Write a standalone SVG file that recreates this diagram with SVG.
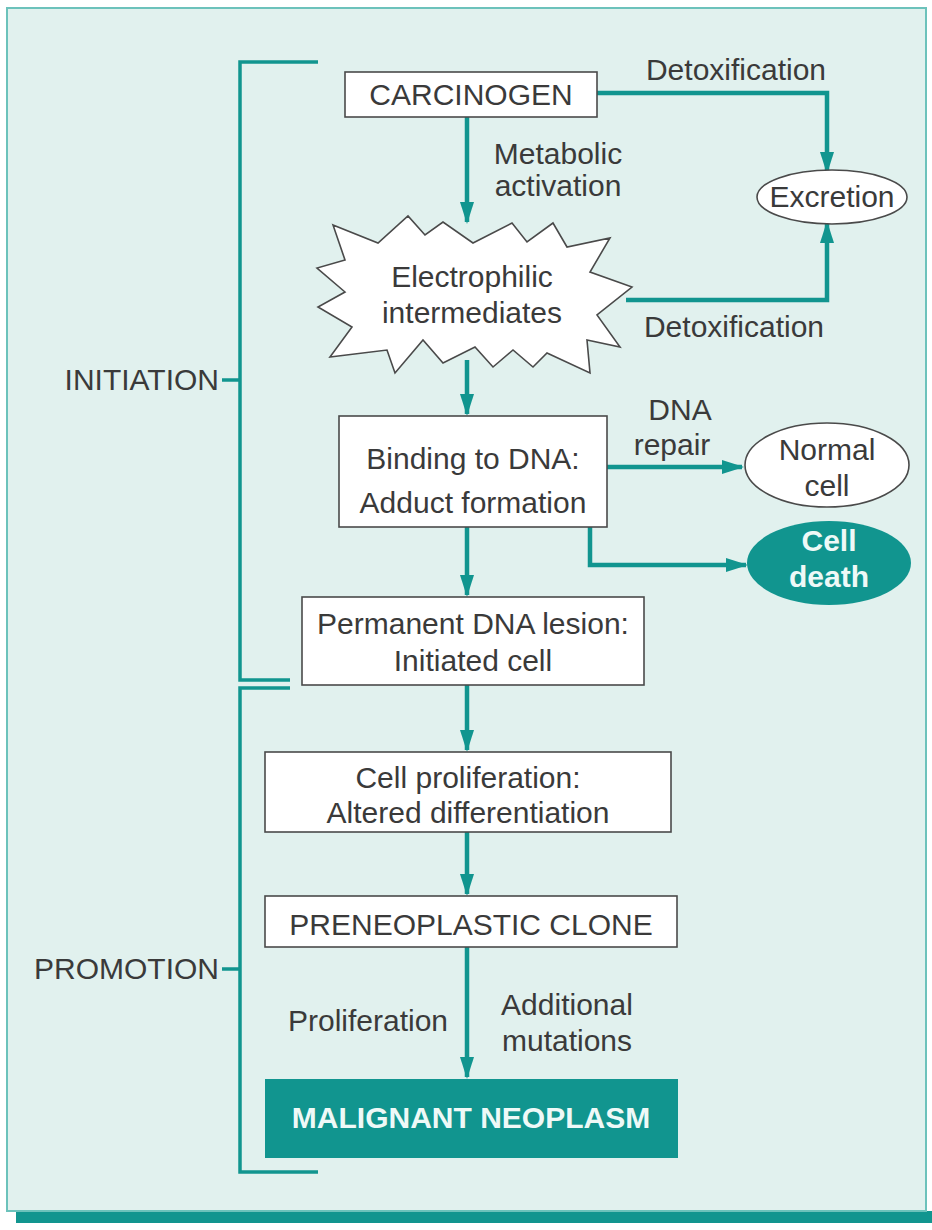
<svg xmlns="http://www.w3.org/2000/svg" width="932" height="1230" viewBox="0 0 932 1230">
<style>
.t{font-family:"Liberation Sans",Arial,sans-serif;font-size:30px;fill:#3a3a3a;text-anchor:middle}
.tb{font-family:"Liberation Sans",Arial,sans-serif;font-size:30px;font-weight:bold;fill:#eef9f7;text-anchor:middle}
.box{fill:#ffffff;stroke:#4a4a4a;stroke-width:1.6}
.teal{fill:#11958f;stroke:none}
.c{fill:none;stroke:#11958f;stroke-width:4.5}
.br{fill:none;stroke:#11958f;stroke-width:3.5}
</style>
<defs>
<marker id="ah" markerWidth="22" markerHeight="14" refX="20" refY="7" orient="auto" markerUnits="userSpaceOnUse">
<path d="M0,0 L22,7 L0,14 Z" fill="#11958f"/>
</marker>
</defs>
<rect x="0" y="0" width="932" height="1230" fill="#ffffff"/>
<rect x="16" y="1211" width="916" height="12" fill="#11958f"/>
<rect x="7" y="8" width="919" height="1203" fill="#e1f1ee" stroke="#6cc2bb" stroke-width="2"/>

<g id="brackets">
<path class="br" d="M318,62 H240 V680 H290"/>
<path class="br" d="M222,380 H240"/>
<path class="br" d="M290,688 H240 V1172 H318"/>
<path class="br" d="M222,969 H240"/>
</g>
<g id="initiation-label"><text class="t" x="219" y="390" style="text-anchor:end">INITIATION</text></g>
<g id="promotion-label"><text class="t" x="219" y="979" style="text-anchor:end">PROMOTION</text></g>

<g id="connectors">
<path class="c" d="M467,117 V222" marker-end="url(#ah)"/>
<path class="c" d="M597,93 H827 V172" marker-end="url(#ah)"/>
<path class="c" d="M626,300 H827 V223" marker-end="url(#ah)"/>
<path class="c" d="M467,360 V414" marker-end="url(#ah)"/>
<path class="c" d="M607,467 H742" marker-end="url(#ah)"/>
<path class="c" d="M590,527 V565 H746" marker-end="url(#ah)"/>
<path class="c" d="M467,527 V595" marker-end="url(#ah)"/>
<path class="c" d="M467,685 V750" marker-end="url(#ah)"/>
<path class="c" d="M467,832 V894" marker-end="url(#ah)"/>
<path class="c" d="M467,947 V1077" marker-end="url(#ah)"/>
</g>
<g id="connector-labels">
<text class="t" x="736" y="80">Detoxification</text>
<text class="t" x="558" y="164">Metabolic</text>
<text class="t" x="558" y="196">activation</text>
<text class="t" x="734" y="337">Detoxification</text>
<text class="t" x="680" y="420">DNA</text>
<text class="t" x="672" y="455">repair</text>
<text class="t" x="368" y="1031">Proliferation</text>
<text class="t" x="567" y="1015">Additional</text>
<text class="t" x="567" y="1051">mutations</text>
</g>

<g id="carcinogen">
<rect class="box" x="345" y="72" width="252" height="45"/>
<text class="t" x="471" y="105">CARCINOGEN</text>
</g>
<g id="excretion">
<ellipse class="box" cx="832" cy="197" rx="75" ry="27"/>
<text class="t" x="832" y="207">Excretion</text>
</g>
<g id="electrophilic">
<polygon class="box" points="333,225 378,243 408,216 425,235 443,222 473,243 512,223 527,242 553,223 567,247 610,238 590,272 632,287 597,315 620,347 587,340 590,373 547,353 533,367 513,350 493,367 475,347 443,363 423,340 395,373 387,350 330,357 352,327 318,307 345,292 317,268 345,260"/>
<text class="t" x="472" y="287">Electrophilic</text>
<text class="t" x="472" y="323">intermediates</text>
</g>
<g id="binding">
<rect class="box" x="339" y="416" width="268" height="111"/>
<text class="t" x="473" y="469">Binding to DNA:</text>
<text class="t" x="473" y="513">Adduct formation</text>
</g>
<g id="normal-cell">
<ellipse class="box" cx="827" cy="465" rx="82" ry="42"/>
<text class="t" x="827" y="460">Normal</text>
<text class="t" x="827" y="496">cell</text>
</g>
<g id="cell-death">
<ellipse class="teal" cx="829" cy="563" rx="82" ry="42"/>
<text class="tb" x="829" y="551">Cell</text>
<text class="tb" x="829" y="587">death</text>
</g>
<g id="permanent">
<rect class="box" x="302" y="597" width="342" height="88"/>
<text class="t" x="473" y="634">Permanent DNA lesion:</text>
<text class="t" x="473" y="671">Initiated cell</text>
</g>
<g id="proliferation">
<rect class="box" x="265" y="752" width="406" height="80"/>
<text class="t" x="468" y="788">Cell proliferation:</text>
<text class="t" x="468" y="823">Altered differentiation</text>
</g>
<g id="preneoplastic">
<rect class="box" x="265" y="896" width="412" height="51"/>
<text class="t" x="471" y="935">PRENEOPLASTIC CLONE</text>
</g>
<g id="malignant">
<rect class="teal" x="265" y="1079" width="413" height="79"/>
<text class="tb" x="471" y="1128">MALIGNANT NEOPLASM</text>
</g>
</svg>
